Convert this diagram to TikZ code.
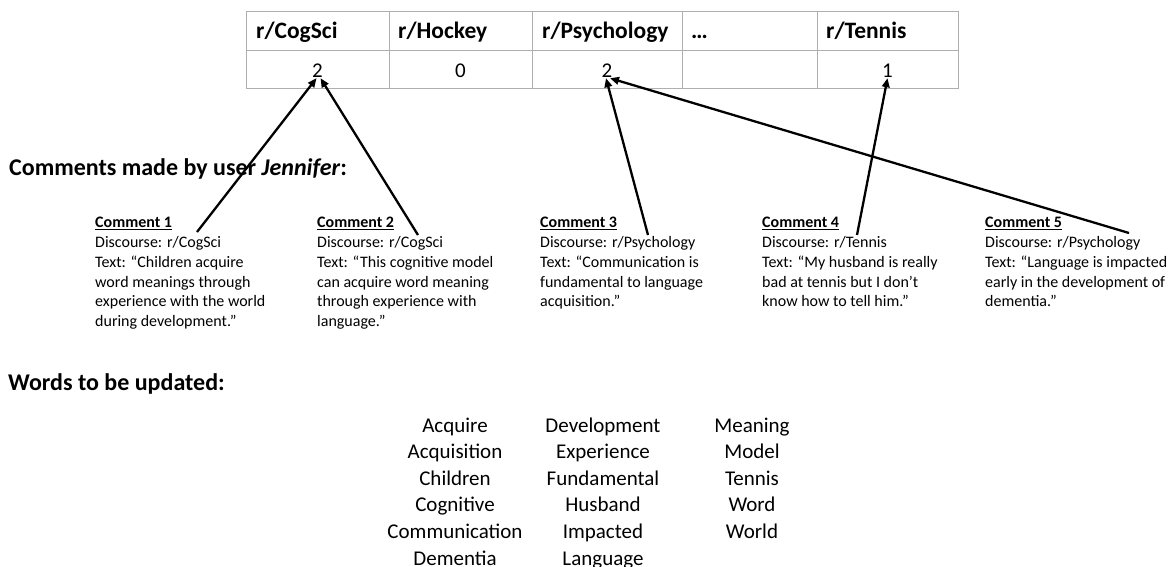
\documentclass[tikz,border=0pt]{standalone}
\usepackage{fontspec}
\setmainfont{Carlito}
\definecolor{GridGrey}{RGB}{175,175,175}
\definecolor{InkBlack}{RGB}{0,0,0}
\usetikzlibrary{arrows.meta}

\tikzset{
  cellhead/.style={anchor=base west,inner sep=0pt,font=\fontsize{23.5}{28}\selectfont\bfseries},
  cellcount/.style={anchor=base,inner sep=1pt,font=\fontsize{21}{25}\selectfont},
  heading/.style={anchor=base west,inner sep=0pt,font=\fontsize{24}{28}\selectfont\bfseries},
  comment/.style={anchor=north west,align=left,inner sep=0pt,font=\fontsize{16}{19.8}\selectfont},
  word/.style={anchor=base,inner sep=0pt,font=\fontsize{21}{25}\selectfont},
  vote/.style={InkBlack,line width=2.3pt,-{Triangle[length=9pt,width=7.5pt]}}
}

\begin{document}
\begin{tikzpicture}[x=1pt,y=-1pt]

  \useasboundingbox (0,0) rectangle (1168,566);

  % the table of discourses
  \draw[GridGrey] (246,11) rectangle (958,88);
  \draw[GridGrey] (246,50) -- (958,50);
  \foreach \x in {389,532,682,817}
    \draw[GridGrey] (\x,11) -- (\x,88);

  \node[cellhead] (hCog) at (256,38) {r/CogSci};
  \node[cellhead] (hHoc) at (398,38) {r/Hockey};
  \node[cellhead] (hPsy) at (542,38) {r/Psychology};
  \node[cellhead] (hDot) at (691,38) {\dots};
  \node[cellhead] (hTen) at (826,38) {r/Tennis};

  \node[cellcount] (nCog) at (317.5,77) {2};
  \node[cellcount] (nHoc) at (460.5,77) {0};
  \node[cellcount] (nPsy) at (607,77) {2};
  \node[cellcount] (nTen) at (887.5,77) {1};

  % comments
  \node[heading] (hComments) at (9,175) {Comments made by user \textit{Jennifer}:};

  \node[comment] (c1) at (95,217) {\textbf{\underline{Comment 1}}\\Discourse: r/CogSci\\Text: “Children acquire\\word meanings through\\experience with the world\\during development.”};
  \node[comment] (c2) at (317,217) {\textbf{\underline{Comment 2}}\\Discourse: r/CogSci\\Text: “This cognitive model\\can acquire word meaning\\through experience with\\language.”};
  \node[comment] (c3) at (540,217) {\textbf{\underline{Comment 3}}\\Discourse: r/Psychology\\Text: “Communication is\\fundamental to language\\acquisition.”};
  \node[comment] (c4) at (762,217) {\textbf{\underline{Comment 4}}\\Discourse: r/Tennis\\Text: “My husband is really\\bad at tennis but I don’t\\know how to tell him.”};
  \node[comment] (c5) at (985,217) {\textbf{\underline{Comment 5}}\\Discourse: r/Psychology\\Text: “Language is impacted\\early in the development of\\dementia.”};

  \coordinate (t1) at (197,232);
  \coordinate (t2) at (418,235);
  \coordinate (t3) at (648,235);
  \coordinate (t4) at (857,235);
  \coordinate (t5) at (1129,233);

  \draw[vote] (t1) -- ([xshift=-1pt]nCog.south);
  \draw[vote] (t2) -- ([xshift=3pt]nCog.south);
  \draw[vote] (t3) -- ([xshift=-1pt]nPsy.south);
  \draw[vote] (t4) -- (nTen.south);
  \draw[vote] (t5) -- ([xshift=3pt]nPsy.south);

  % words
  \node[heading] (hWords) at (8,390) {Words to be updated:};

  \foreach \w [count=\i] in {Acquire,Acquisition,Children,Cognitive,Communication,Dementia}
    \node[word] (wa\i) at (455,{432+26.6*(\i-1)}) {\w};
  \foreach \w [count=\i] in {Development,Experience,Fundamental,Husband,Impacted,Language}
    \node[word] (wb\i) at (603,{432+26.6*(\i-1)}) {\w};
  \foreach \w [count=\i] in {Meaning,Model,Tennis,Word,World}
    \node[word] (wc\i) at (752,{432+26.6*(\i-1)}) {\w};

\end{tikzpicture}
\end{document}
